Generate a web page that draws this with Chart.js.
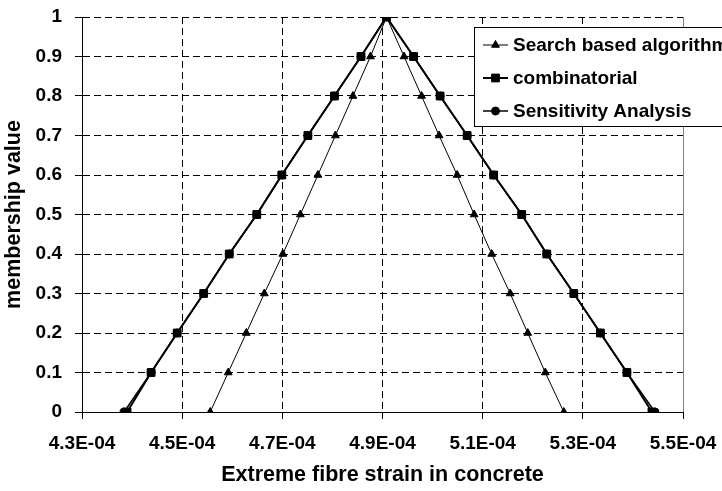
<!DOCTYPE html>
<html>
<head>
<meta charset="utf-8">
<script src="https://cdn.jsdelivr.net/npm/chart.js@4.4.1/dist/chart.umd.min.js"></script>
<style>
  html, body { margin: 0; padding: 0; background: #fff; }
  #wrap { width: 722px; height: 491px; }
</style>
</head>
<body>
<div id="wrap"><canvas id="chart"></canvas></div>
<script>
// membership levels: up the left flank, then down the right flank
const membership = [0, 0.1, 0.2, 0.3, 0.4, 0.5, 0.6, 0.7, 0.8, 0.9, 1, 0.9, 0.8, 0.7, 0.6, 0.5, 0.4, 0.3, 0.2, 0.1, 0];

// extreme fibre strain
const searchStrain = [4.556e-4, 4.592e-4, 4.628e-4, 4.664e-4, 4.701e-4, 4.736e-4, 4.771e-4, 4.806e-4, 4.841e-4, 4.876e-4, 4.908e-4,
  4.943e-4, 4.978e-4, 5.013e-4, 5.049e-4, 5.083e-4, 5.118e-4, 5.155e-4, 5.190e-4, 5.225e-4, 5.262e-4];
const combStrain = [4.390e-4, 4.438e-4, 4.490e-4, 4.543e-4, 4.594e-4, 4.649e-4, 4.699e-4, 4.751e-4, 4.804e-4, 4.857e-4, 4.908e-4,
  4.962e-4, 5.015e-4, 5.069e-4, 5.122e-4, 5.178e-4, 5.228e-4, 5.282e-4, 5.335e-4, 5.388e-4, 5.438e-4];
const sensStrain = [4.384e-4, 4.438e-4, 4.490e-4, 4.543e-4, 4.594e-4, 4.649e-4, 4.699e-4, 4.751e-4, 4.804e-4, 4.857e-4, 4.908e-4,
  4.962e-4, 5.015e-4, 5.069e-4, 5.122e-4, 5.178e-4, 5.228e-4, 5.282e-4, 5.335e-4, 5.388e-4, 5.444e-4];

const seriesLabels = ['Search based algorithm', 'combinatorial', 'Sensitivity Analysis'];

const xTicks = [4.3e-4, 4.5e-4, 4.7e-4, 4.9e-4, 5.1e-4, 5.3e-4, 5.5e-4];
const yTicks = [0, 0.1, 0.2, 0.3, 0.4, 0.5, 0.6, 0.7, 0.8, 0.9, 1];

const FONT = '"Liberation Sans", Arial, Helvetica, sans-serif';

function pts(xs) {
  return xs.map((x, i) => ({ x, y: membership[i] }));
}

function fmtExp(v) {
  const e = Math.floor(Math.log10(v) + 1e-9);
  const m = v / Math.pow(10, e);
  const sign = e < 0 ? '-' : '+';
  return m.toFixed(1) + 'E' + sign + String(Math.abs(e)).padStart(2, '0');
}

// legend box sits inside the plot, top-right, like the Excel original
const boxLegend = {
  id: 'boxLegend',
  afterDraw(chart) {
    const ctx = chart.ctx;
    const left = 474, top = 27, bottom = 126;
    ctx.save();
    ctx.fillStyle = '#fff';
    ctx.strokeStyle = '#000';
    ctx.lineWidth = 1;
    ctx.fillRect(left, top, 300, bottom - top);
    ctx.strokeRect(left + 0.5, top + 0.5, 300, bottom - top);
    ctx.font = 'bold 19px ' + FONT;
    ctx.textBaseline = 'middle';
    ctx.textAlign = 'left';
    chart.data.datasets.forEach((ds, i) => {
      const y = 45 + i * 33;
      ctx.strokeStyle = '#000';
      ctx.fillStyle = '#000';
      ctx.lineWidth = ds.borderWidth;
      ctx.beginPath();
      ctx.moveTo(483, y);
      ctx.lineTo(508, y);
      ctx.stroke();
      ctx.lineWidth = 1;
      Chart.helpers.drawPoint(ctx, { pointStyle: ds.pointStyle, radius: ds.pointRadius, rotation: 0, borderWidth: 1 }, 495.5, y);
      ctx.fillStyle = '#000';
      ctx.fillText(ds.label, 513, y + 1);
    });
    ctx.restore();
  }
};

new Chart(document.getElementById('chart'), {
  type: 'scatter',
  data: {
    datasets: [
      {
        label: seriesLabels[0],
        data: pts(searchStrain),
        showLine: true,
        borderColor: '#000',
        backgroundColor: '#000',
        borderWidth: 1,
        pointStyle: 'triangle',
        pointRadius: 4.5,
        pointBorderWidth: 1
      },
      {
        label: seriesLabels[1],
        data: pts(combStrain),
        showLine: true,
        borderColor: '#000',
        backgroundColor: '#000',
        borderWidth: 2,
        pointStyle: 'rect',
        pointRadius: 5.5,
        pointBorderWidth: 1
      },
      {
        label: seriesLabels[2],
        data: pts(sensStrain),
        showLine: true,
        borderColor: '#000',
        backgroundColor: '#000',
        borderWidth: 1.5,
        pointStyle: 'circle',
        pointRadius: 4,
        pointBorderWidth: 1
      }
    ]
  },
  options: {
    responsive: true,
    maintainAspectRatio: false,
    animation: false,
    layout: { padding: { top: 17, right: 39, left: 0, bottom: 0 } },
    plugins: {
      legend: { display: false },
      tooltip: { enabled: false }
    },
    scales: {
      x: {
        type: 'linear',
        min: 4.3e-4,
        max: 5.5e-4,
        afterBuildTicks: s => { s.ticks = xTicks.map(v => ({ value: v })); },
        afterFit: s => { s.height = 79; s.paddingLeft = 0; s.paddingRight = 0; },
        ticks: {
          callback: v => fmtExp(v),
          color: '#000',
          font: { family: FONT, size: 19, weight: 'bold' },
          padding: 13,
          maxRotation: 0,
          autoSkip: false
        },
        grid: {
          color: ctx => ctx.index === xTicks.length - 1 ? '#808080' : '#000',
          lineWidth: 1,
          tickLength: 7,
          tickColor: '#000'
        },
        border: {
          display: true,
          color: '#000',
          width: 1,
          dash: ctx => ctx.index === xTicks.length - 1 ? [] : [7, 4]
        },
        title: {
          display: true,
          text: 'Extreme fibre strain in concrete',
          color: '#000',
          font: { family: FONT, size: 21.5, weight: 'bold' },
          padding: { top: 0, bottom: 3 }
        }
      },
      y: {
        type: 'linear',
        min: 0,
        max: 1,
        afterBuildTicks: s => { s.ticks = yTicks.map(v => ({ value: v })); },
        afterFit: s => { s.width = 82; s.paddingTop = 0; s.paddingBottom = 0; },
        ticks: {
          callback: v => String(Math.round(v * 10) / 10),
          color: '#000',
          font: { family: FONT, size: 19, weight: 'bold' },
          padding: 13
        },
        grid: {
          color: '#000',
          lineWidth: 1,
          tickLength: 7,
          tickColor: '#000'
        },
        border: {
          display: true,
          color: '#000',
          width: 1,
          dash: [7, 4]
        },
        title: {
          display: true,
          text: 'membership value',
          color: '#000',
          font: { family: FONT, size: 21.5, weight: 'bold' },
          padding: { top: 1, bottom: 0 }
        }
      }
    }
  },
  plugins: [boxLegend]
});
</script>
</body>
</html>
